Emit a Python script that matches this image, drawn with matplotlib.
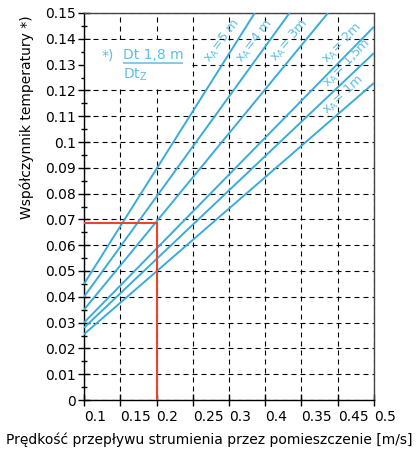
import matplotlib
matplotlib.use('Agg')
import matplotlib.pyplot as plt
from matplotlib.patches import Rectangle
import numpy as np

# x axis is categorical-like: equally spaced ticks with these labels (as printed)
x_labels = ['0.1', '0.15', '0.2', '0.25', '0.3', '0.4', '0.35', '0.45', '0.5']
x_pos = np.arange(len(x_labels))

# curves x_A, start at first tick, end at top or right border (x in tick units)
line_names = ['=5 m', '=4 m', '= 3m', '= 2m', '= 1,5m', '= 1m']
y_start = [0.045, 0.040, 0.035, 0.030, 0.028, 0.0255]
x_end = [4.71, 5.67, 6.73, 8.0, 8.0, 8.0]
y_end = [0.150, 0.150, 0.150, 0.1447, 0.1345, 0.1229]

# label anchor points (tick units, value)
lab_x = [3.88, 4.77, 5.73, 7.19, 7.33, 7.22]
lab_y = [0.1384, 0.1384, 0.1384, 0.1372, 0.1295, 0.1171]
lab_rot = [53, 52, 50, 46, 46, 43]

# example reading
sel_x = 2
sel_y = 0.0686

line_col = '#3aacd9'
text_col = '#5fbee4'
red = '#e8452c'

plt.rcParams['font.family'] = 'DejaVu Sans'
fig = plt.figure(figsize=(4.18, 4.55), dpi=100)
ax = fig.add_axes([84/418, 1-400/455, (374-84)/418, (400-13)/455])

ax.set_xlim(0, 8)
ax.set_ylim(0, 0.15)
ax.set_axisbelow(True)

for i in range(len(line_names)):
    ax.plot([0, x_end[i]], [y_start[i], y_end[i]], color=line_col, lw=1.4, solid_capstyle='butt', zorder=3)
    r = np.radians(lab_rot[i])
    ax.annotate(r'x$_\mathregular{A}$' + line_names[i], (lab_x[i], lab_y[i]),
                xytext=(-2.2*np.sin(r), 2.2*np.cos(r)), textcoords='offset points',
                color=text_col, fontsize=9.3, rotation=lab_rot[i],
                ha='center', va='center', rotation_mode='anchor')

ax.plot([0, sel_x], [sel_y, sel_y], color=red, lw=1.5, zorder=4)
ax.plot([sel_x, sel_x], [0, sel_y], color=red, lw=1.5, zorder=4)

# annotation box
ax.add_patch(Rectangle((0.03, 0.1205), 2.94, 0.019, facecolor='white', edgecolor='none', zorder=1))
ax.text(0.66, 0.1335, '*)', color=text_col, fontsize=10, ha='center', va='center')
ax.text(1.07, 0.1339, 'Dt 1,8 m', color=text_col, fontsize=10, ha='left', va='center')
ax.hlines(0.1306, 1.07, 2.73, color=text_col, lw=1.1)
ax.text(1.07, 0.1262, r'Dt$_\mathregular{Z}$', color=text_col, fontsize=10, ha='left', va='center')

ax.set_xticks(x_pos)
ax.set_xticklabels(x_labels, ha='left')
ax.set_yticks(np.arange(0, 0.151, 0.01))
ax.set_yticklabels(['0'] + ['%g' % v for v in np.round(np.arange(0.01, 0.151, 0.01), 2)])
ax.set_yticks(np.arange(0.005, 0.15, 0.01), minor=True)
ax.tick_params(axis='both', which='major', direction='inout', length=8, width=1, labelsize=10, colors='black')
ax.tick_params(axis='y', which='minor', direction='inout', length=5, width=1)
ax.tick_params(axis='x', pad=3)
ax.tick_params(axis='y', pad=2)

ax.grid(True, which='major', color='black', linestyle=(0, (4.5, 3.6)), linewidth=0.8)
for s in ['top', 'right']:
    ax.spines[s].set_color('#444444')
for s in ax.spines.values():
    s.set_linewidth(1)

fig.text(209/418, 1-440/455, 'Prędkość przepływu strumienia przez pomieszczenie [m/s]',
         ha='center', va='center', fontsize=10)
fig.text(27/418, 1-117/455, 'Współczynnik temperatury *)', rotation=90,
         ha='center', va='center', fontsize=10)

fig.savefig('out.png', dpi=100)
